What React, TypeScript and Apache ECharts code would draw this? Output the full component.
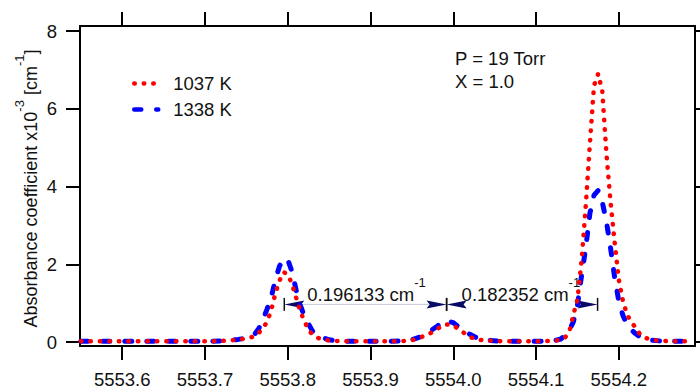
import React, { useEffect, useRef } from 'react';
import * as echarts from 'echarts';

// ---- data ----
const X = [
  5553.55, 5553.60, 5553.65, 5553.70, 5553.72, 5553.74, 5553.75, 5553.755, 5553.76, 5553.765,
  5553.77, 5553.775, 5553.78, 5553.785, 5553.79, 5553.795, 5553.80, 5553.805, 5553.81, 5553.815,
  5553.82, 5553.825, 5553.83, 5553.835, 5553.84, 5553.85, 5553.86, 5553.88, 5553.90, 5553.92,
  5553.94, 5553.95, 5553.96, 5553.97, 5553.98, 5553.99, 5554.00, 5554.01, 5554.02, 5554.03,
  5554.04, 5554.06, 5554.08, 5554.10, 5554.12, 5554.13, 5554.135, 5554.14, 5554.145, 5554.15,
  5554.155, 5554.16, 5554.165, 5554.17, 5554.175, 5554.18, 5554.185, 5554.19, 5554.195, 5554.20,
  5554.205, 5554.21, 5554.215, 5554.22, 5554.225, 5554.23, 5554.24, 5554.25, 5554.27, 5554.29,
];
const Y_1037 = [
  0.02, 0.02, 0.02, 0.02, 0.03, 0.06, 0.10, 0.12, 0.15, 0.24,
  0.36, 0.52, 0.82, 1.25, 1.58, 1.80, 1.74, 1.50, 1.15, 0.80,
  0.54, 0.33, 0.18, 0.12, 0.08, 0.04, 0.03, 0.02, 0.02, 0.02,
  0.03, 0.05, 0.12, 0.20, 0.33, 0.46, 0.43, 0.28, 0.13, 0.06,
  0.04, 0.02, 0.02, 0.02, 0.03, 0.06, 0.12, 0.25, 0.70, 1.10,
  2.10, 3.50, 5.10, 6.60, 6.90, 6.45, 4.85, 3.60, 2.55, 1.60,
  1.05, 0.70, 0.52, 0.38, 0.22, 0.12, 0.06, 0.03, 0.02, 0.02,
];
const Y_1338 = [
  0.02, 0.02, 0.02, 0.02, 0.03, 0.07, 0.10, 0.14, 0.20, 0.35,
  0.58, 0.85, 1.15, 1.60, 1.95, 2.15, 2.12, 1.82, 1.35, 0.95,
  0.68, 0.47, 0.28, 0.18, 0.13, 0.06, 0.03, 0.02, 0.02, 0.02,
  0.03, 0.06, 0.13, 0.25, 0.40, 0.56, 0.50, 0.33, 0.20, 0.09,
  0.05, 0.02, 0.02, 0.02, 0.03, 0.08, 0.18, 0.30, 0.52, 0.95,
  1.72, 2.42, 3.31, 3.78, 3.90, 3.60, 3.10, 2.42, 1.65, 1.05,
  0.68, 0.45, 0.32, 0.22, 0.14, 0.09, 0.05, 0.03, 0.02, 0.02,
];
const SERIES_NAMES = ['1037 K', '1338 K'];
const X_TICKS = [5553.6, 5553.7, 5553.8, 5553.9, 5554.0, 5554.1, 5554.2];
const Y_TICKS = [0, 2, 4, 6, 8];
const X_MIN = 5553.549;
const X_MAX = 5554.292;
const Y_MIN = -0.1;
const Y_MAX = 8.13;
const ARROW_FROM = [5553.7958, 5553.9919];
const ARROW_TO = [5553.9919, 5554.1743];
const ARROW_Y = [0.97, 0.97];
const ARROW_LABELS = ['0.196133', '0.182352'];
const CONDITIONS = ['P = 19 Torr', 'X = 1.0'];
const Y_TITLE = 'Absorbance coefficient x10{s|-3} [cm{s|-1}]';

// ---- styles ----
const FONT = '"Liberation Sans", Arial, Helvetica, sans-serif';
const INK = '#111111';
const NAVY = '#0a0a66';
const FS = 18.5;
const SUP = { fontSize: 13, lineHeight: 13, padding: [0, 0, 24, 0], fontFamily: FONT, color: INK };
const ANNOT_DX = [23, 15];
const ANNOT_LINE = [true, false];

export default function App() {
  const ref = useRef<HTMLDivElement>(null);
  useEffect(() => {
    if (!ref.current) return;
    const chart = echarts.init(ref.current, undefined, { renderer: 'svg' });

    const axisLine = { show: true, onZero: false, lineStyle: { color: '#000', width: 2 } };
    const tickBase = { show: true, inside: false, length: 14, lineStyle: { color: '#000', width: 2 } };

    const renderArrow = (params: any, api: any) => {
      const i = params.dataIndex;
      const yv = api.value(2);
      const p1 = api.coord([api.value(0), yv]);
      const p2 = api.coord([api.value(1), yv]);
      const y = p1[1];
      const a = p1[0];
      const b = p2[0];
      const children: any[] = [];
      if (ANNOT_LINE[i]) {
        children.push({
          type: 'line',
          shape: { x1: a + 18, y1: y, x2: b - 18, y2: y },
          style: { stroke: '#c8c8dc', lineWidth: 1 },
        });
      }
      children.push(
        { type: 'line', shape: { x1: a, y1: y - 6.5, x2: a, y2: y + 6.5 }, style: { stroke: '#111', lineWidth: 1.5 } },
        { type: 'line', shape: { x1: b, y1: y - 6.5, x2: b, y2: y + 6.5 }, style: { stroke: '#111', lineWidth: 1.5 } },
        {
          type: 'polygon',
          shape: { points: [[a, y], [a + 20, y - 4], [a + 17, y], [a + 20, y + 4]] },
          style: { fill: NAVY },
        },
        {
          type: 'polygon',
          shape: { points: [[b, y], [b - 20, y - 4], [b - 17, y], [b - 20, y + 4]] },
          style: { fill: NAVY },
        },
        {
          type: 'text',
          x: a + ANNOT_DX[i],
          y: y - 10,
          style: {
            text: ARROW_LABELS[i] + ' cm{s|-1}',
            rich: { s: SUP },
            fontSize: FS,
            lineHeight: 18,
            fontFamily: FONT,
            fill: INK,
            align: 'left',
            verticalAlign: 'middle',
          },
        }
      );
      return { type: 'group', children };
    };

    chart.setOption({
      animation: false,
      backgroundColor: '#ffffff',
      textStyle: { fontFamily: FONT },
      grid: { left: 80, right: 5, top: 26, bottom: 44, containLabel: false, outerBoundsMode: 'none' },
      legend: {
        data: SERIES_NAMES,
        orient: 'vertical',
        left: 132,
        top: 74,
        padding: 0,
        itemWidth: 24,
        itemHeight: 14,
        itemGap: 7,
        itemStyle: { color: 'rgba(0,0,0,0)', borderColor: 'rgba(0,0,0,0)', borderWidth: 0 },
        lineStyle: { width: 4.5 },
        textStyle: { fontSize: FS, color: INK, fontFamily: FONT, padding: [0, 0, 0, 10] },
      },
      xAxis: [
        {
          type: 'value', position: 'bottom', min: X_MIN, max: X_MAX,
          axisLine, axisTick: { ...tickBase, customValues: X_TICKS },
          axisLabel: {
            customValues: X_TICKS, formatter: (v: number) => v.toFixed(1),
            fontSize: FS, color: INK, margin: 24, fontFamily: FONT,
          },
          splitLine: { show: false },
        },
        {
          type: 'value', position: 'top', min: X_MIN, max: X_MAX,
          axisLine, axisTick: { ...tickBase, customValues: X_TICKS },
          axisLabel: { show: false }, splitLine: { show: false },
        },
      ],
      yAxis: [
        {
          type: 'value', position: 'left', min: Y_MIN, max: Y_MAX,
          axisLine, axisTick: { ...tickBase, customValues: Y_TICKS },
          axisLabel: {
            customValues: Y_TICKS, formatter: (v: number) => String(v),
            fontSize: FS, color: INK, margin: 23, fontFamily: FONT,
          },
          splitLine: { show: false },
        },
        {
          type: 'value', position: 'right', min: Y_MIN, max: Y_MAX,
          axisLine, axisTick: { ...tickBase, customValues: Y_TICKS },
          axisLabel: { show: false }, splitLine: { show: false },
        },
      ],
      graphic: [
        {
          type: 'text', x: 31, y: 188.5, rotation: Math.PI / 2,
          style: {
            text: Y_TITLE, rich: { s: SUP }, fontSize: 18, lineHeight: 18, fontFamily: FONT,
            fill: INK, align: 'center', verticalAlign: 'middle',
          },
        },
        ...CONDITIONS.map((t, i) => ({
          type: 'text', x: 455, y: 58.5 + i * 22.5,
          style: { text: t, fontSize: FS, fontFamily: FONT, fill: INK, align: 'left', verticalAlign: 'middle' },
        })),
      ],
      series: [
        {
          type: 'custom', name: 'spacing', renderItem: renderArrow, silent: true,
          data: ARROW_FROM.map((f, i) => [f, ARROW_TO[i], ARROW_Y[i]]),
          encode: { x: [0, 1], y: 2 }, z: 2,
        },
        {
          type: 'line', name: SERIES_NAMES[1], data: X.map((x, i) => [x, Y_1338[i]]),
          symbol: 'none', showSymbol: false, z: 3,
          itemStyle: { color: '#0000ff' },
          lineStyle: { color: '#0000ff', width: 5, type: [7, 15], cap: 'round', join: 'round' },
        },
        {
          type: 'line', name: SERIES_NAMES[0], data: X.map((x, i) => [x, Y_1037[i]]),
          symbol: 'none', showSymbol: false, z: 4,
          itemStyle: { color: '#ff0000' },
          lineStyle: { color: '#ff0000', width: 4.5, type: [0.5, 9], cap: 'round', join: 'round' },
        },
      ],
    });
    return () => chart.dispose();
  }, []);
  return (
    <div
      ref={ref}
      style={{ position: 'fixed', left: 0, top: 0, width: 700, height: 390, background: '#fff' }}
    />
  );
}
